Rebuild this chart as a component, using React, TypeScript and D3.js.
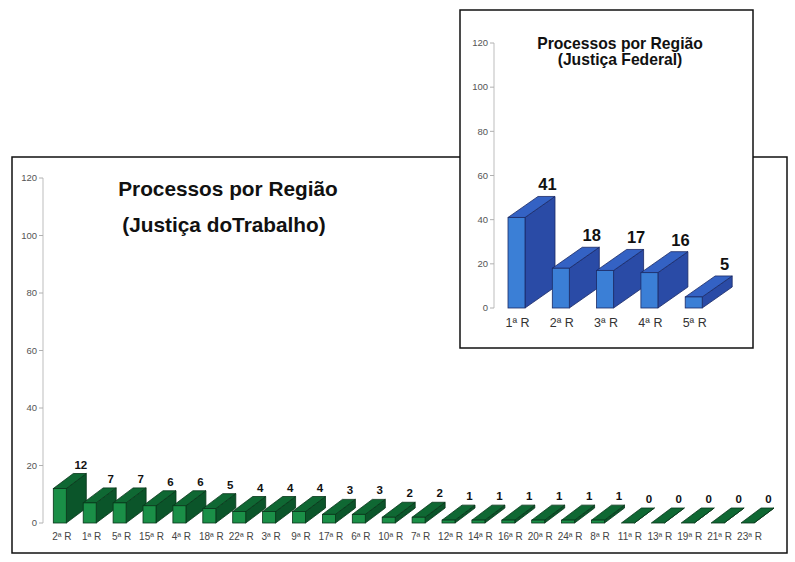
import React from "react";
import * as d3 from "d3";

// Justiça do Trabalho – processes per region
const trabalhoRegions = [
  "2ª R", "1ª R", "5ª R", "15ª R", "4ª R", "18ª R", "22ª R", "3ª R", "9ª R", "17ª R", "6ª R", "10ª R",
  "7ª R", "12ª R", "14ª R", "16ª R", "20ª R", "24ª R", "8ª R", "11ª R", "13ª R", "19ª R", "21ª R", "23ª R",
];
const trabalhoValues = [12, 7, 7, 6, 6, 5, 4, 4, 4, 3, 3, 2, 2, 1, 1, 1, 1, 1, 1, 0, 0, 0, 0, 0];

// Justiça Federal – processes per region
const federalRegions = ["1ª R", "2ª R", "3ª R", "4ª R", "5ª R"];
const federalValues = [41, 18, 17, 16, 5];

const yTicks = [0, 20, 40, 60, 80, 100, 120];

const FONT = "'Liberation Sans', Arial, Helvetica, sans-serif";

type Palette = { front: string; side: string; top: string; stroke: string };

const green: Palette = { front: "#1a8f47", side: "#0b552a", top: "#0f6833", stroke: "#083519" };
const blue: Palette = { front: "#3b7fd6", side: "#2a4ba6", top: "#3462c4", stroke: "#1b2a66" };

interface Chart3DProps {
  categories: string[];
  values: number[];
  x0: number;
  step: number;
  barW: number;
  yBottom: number;
  yTop: number;
  axisX: number;
  dx: number;
  dy: number;
  palette: Palette;
  valueFont: number;
  valueOffset: number;
  catFont: number;
  catY: number;
  catDx: number;
  tickFont: number;
  catColor: string;
}

function Bars3D(p: Chart3DProps) {
  const n = p.categories.length;
  const inner = 1 - p.barW / p.step;
  const x = d3
    .scaleBand<string>()
    .domain(p.categories)
    .range([p.x0, p.x0 + p.step * (n - inner)])
    .paddingInner(inner)
    .paddingOuter(0);
  const y = d3.scaleLinear().domain([0, 120]).range([p.yBottom, p.yTop]);
  const w = x.bandwidth();
  const y0 = y(0);
  const pts = (a: [number, number][]) => a.map((q) => q.join(",")).join(" ");

  return (
    <g>
      {/* y axis */}
      <line x1={p.axisX} x2={p.axisX} y1={y(120)} y2={y(0)} stroke="#c8c8c8" strokeWidth={1.2} />
      {yTicks.map((t) => (
        <g key={t}>
          <line x1={p.axisX - 4} x2={p.axisX} y1={y(t)} y2={y(t)} stroke="#b0b0b0" strokeWidth={1} />
          <text
            x={p.axisX - 6}
            y={y(t)}
            dy="0.35em"
            textAnchor="end"
            fontFamily={FONT}
            fontSize={p.tickFont}
            fill="#555"
          >
            {t}
          </text>
        </g>
      ))}
      {/* bars */}
      {p.categories.map((c, i) => {
        const v = p.values[i];
        const xl = x(c) as number;
        const xr = xl + w;
        const yt = y(v);
        const side = pts([
          [xr, yt],
          [xr + p.dx, yt - p.dy],
          [xr + p.dx, y0 - p.dy],
          [xr, y0],
        ]);
        const top = pts([
          [xl, yt],
          [xl + p.dx, yt - p.dy],
          [xr + p.dx, yt - p.dy],
          [xr, yt],
        ]);
        return (
          <g key={c}>
            <polygon points={side} fill={p.palette.side} stroke={p.palette.stroke} strokeWidth={0.8} strokeLinejoin="round" />
            <polygon points={top} fill={p.palette.top} stroke={p.palette.stroke} strokeWidth={0.8} strokeLinejoin="round" />
            {v > 0 && (
              <rect x={xl} y={yt} width={w} height={y0 - yt} fill={p.palette.front} stroke={p.palette.stroke} strokeWidth={0.8} />
            )}
            <text
              x={xl + p.dx + w / 2 + 1}
              y={yt - p.dy - p.valueOffset}
              textAnchor="middle"
              fontFamily={FONT}
              fontWeight="bold"
              fontSize={p.valueFont}
              fill="#111"
            >
              {v}
            </text>
            <text
              x={xl + w / 2 + p.catDx}
              y={p.catY}
              textAnchor="middle"
              fontFamily={FONT}
              fontSize={p.catFont}
              fill={p.catColor}
            >
              {c}
            </text>
          </g>
        );
      })}
    </g>
  );
}

export default function App() {
  return (
    <svg
      width={795}
      height={562}
      viewBox="0 0 795 562"
      style={{ position: "absolute", left: 0, top: 0, background: "#fff" }}
    >
      <rect x={0} y={0} width={795} height={562} fill="#fff" />

      {/* Justiça do Trabalho panel */}
      <rect x={12} y={157} width={775} height={396} fill="#fff" stroke="#111" strokeWidth={1.5} />
      <text x={228} y={196} textAnchor="middle" fontFamily={FONT} fontWeight="bold" fontSize={20.8} fill="#111">
        Processos por Região
      </text>
      <text x={224} y={232} textAnchor="middle" fontFamily={FONT} fontWeight="bold" fontSize={20.8} fill="#111">
        (Justiça doTrabalho)
      </text>
      <Bars3D
        categories={trabalhoRegions}
        values={trabalhoValues}
        x0={53.3}
        step={29.9}
        barW={13}
        yBottom={523}
        yTop={178}
        axisX={43}
        dx={20}
        dy={15}
        palette={green}
        valueFont={11.5}
        valueOffset={5}
        catFont={10}
        catY={540}
        catDx={2}
        tickFont={9.5}
        catColor="#444"
      />

      {/* Justiça Federal panel */}
      <rect x={460} y={10} width={293} height={338} fill="#fff" stroke="#111" strokeWidth={1.5} />
      <text x={620} y={49} textAnchor="middle" fontFamily={FONT} fontWeight="bold" fontSize={15.7} fill="#111">
        Processos por Região
      </text>
      <text x={620} y={65} textAnchor="middle" fontFamily={FONT} fontWeight="bold" fontSize={15.7} fill="#111">
        (Justiça Federal)
      </text>
      <Bars3D
        categories={federalRegions}
        values={federalValues}
        x0={508}
        step={44.3}
        barW={17}
        yBottom={308}
        yTop={43}
        axisX={494}
        dx={30}
        dy={21}
        palette={blue}
        valueFont={16.5}
        valueOffset={6}
        catFont={12.5}
        catY={327}
        catDx={1}
        tickFont={9.5}
        catColor="#333"
      />
    </svg>
  );
}
